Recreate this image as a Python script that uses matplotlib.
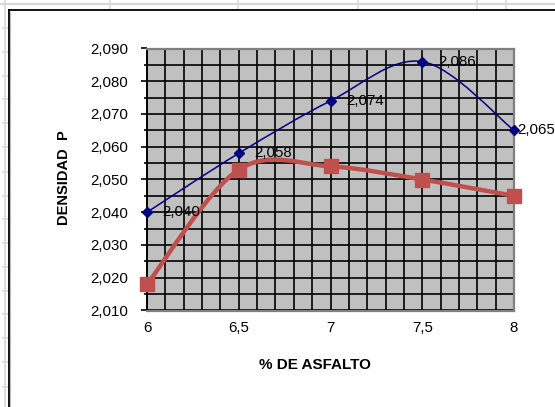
import matplotlib
matplotlib.use("Agg")
import matplotlib.pyplot as plt
from matplotlib.path import Path
from matplotlib.patches import PathPatch
from matplotlib.ticker import MultipleLocator, FuncFormatter

plt.rcParams['font.family'] = ['Liberation Sans', 'DejaVu Sans']

# Data
asfalto = [6.0, 6.5, 7.0, 7.5, 8.0]
densidad_a = [2.040, 2.058, 2.074, 2.086, 2.065]
densidad_b = [2.018, 2.053, 2.054, 2.050, 2.045]
x_ticks = [6.0, 6.5, 7.0, 7.5, 8.0]
y_range = (2.010, 2.090)

W, H = 555, 407
fig = plt.figure(figsize=(W / 100, H / 100), dpi=100)
fig.patch.set_facecolor('white')

# Worksheet cells behind the chart (pixel coordinates)
bg = fig.add_axes([0, 0, 1, 1], zorder=0)
bg.set_xlim(0, W)
bg.set_ylim(H, 0)
bg.axis('off')
cell = '#d9d9d9'
bg.plot([0, W], [3.5, 3.5], color=cell, lw=1.6)
for cx in [110, 238, 358, 477, 506]:
    bg.plot([cx, cx], [0, 9], color=cell, lw=1.2)
bg.plot([5, 5], [0, H], color=cell, lw=1.2)
for ry in [28, 52, 76, 99, 123, 147, 172, 196, 219, 243, 267, 291, 314, 338, 362, 387]:
    bg.plot([3, 8], [ry, ry], color=cell, lw=1.2)
# Chart area frame
bg.plot([8.5, 8.5], [10, H], color='black', lw=1.3)
bg.plot([8.5, W], [10, 10], color='black', lw=1.3)
bg.plot([10, 10], [11.5, H], color='#bbbbbb', lw=0.8)

# Plot area
left, right, top, bottom = 147, 514, 48.5, 310.5
ax = fig.add_axes([left / W, 1 - bottom / H, (right - left) / W, (bottom - top) / H], zorder=1)
ax.set_facecolor('#c0c0c0')
ax.set_xlim(asfalto[0], asfalto[-1])
ax.set_ylim(*y_range)

ax.xaxis.set_major_locator(MultipleLocator(0.5))
ax.xaxis.set_minor_locator(MultipleLocator(0.1))
ax.yaxis.set_major_locator(MultipleLocator(0.01))
ax.yaxis.set_minor_locator(MultipleLocator(0.005))
ax.set_xticks(x_ticks)
ax.xaxis.set_major_formatter(FuncFormatter(lambda v, p: f"{v:g}".replace('.', ',')))
ax.yaxis.set_major_formatter(FuncFormatter(lambda v, p: f"{v:.3f}".replace('.', ',')))

ax.grid(True, which='both', color='black', lw=1.2)
ax.set_axisbelow(True)
ax.tick_params(axis='x', which='both', length=0, pad=7.5, labelsize=10.8)
ax.tick_params(axis='y', which='major', length=4.5, width=1.2, pad=9, labelsize=10.8)
ax.tick_params(axis='y', which='minor', length=2.5, width=1.2)
for name, sp in ax.spines.items():
    sp.set_color('#808080')
    sp.set_linewidth(1.6)
ax.spines['left'].set_color('black')
ax.spines['left'].set_linewidth(1.4)


def smooth_path(xs, ys):
    """Cubic Bezier path through the points, with Catmull-Rom style control points."""
    n = len(xs)
    verts = [(xs[0], ys[0])]
    codes = [Path.MOVETO]
    for i in range(n - 1):
        i0 = max(i - 1, 0)
        i3 = min(i + 2, n - 1)
        c1 = (xs[i] + (xs[i + 1] - xs[i0]) / 6, ys[i] + (ys[i + 1] - ys[i0]) / 6)
        c2 = (xs[i + 1] - (xs[i3] - xs[i]) / 6, ys[i + 1] - (ys[i3] - ys[i]) / 6)
        verts += [c1, c2, (xs[i + 1], ys[i + 1])]
        codes += [Path.CURVE4] * 3
    return Path(verts, codes)


blue = '#000080'
red = '#c0504d'
ax.add_patch(PathPatch(smooth_path(asfalto, densidad_b), fill=False, edgecolor=red,
                       lw=3.2, capstyle='round', joinstyle='round', zorder=3))
ax.plot(asfalto, densidad_b, ls='none', marker='s', ms=10, color=red, zorder=4, clip_on=False)
ax.add_patch(PathPatch(smooth_path(asfalto, densidad_a), fill=False, edgecolor=blue,
                       lw=1.1, zorder=5))
ax.plot(asfalto, densidad_a, ls='none', marker='D', ms=5.5, color=blue, zorder=6, clip_on=False)

label_dx = [11, 11, 11.5, 11.5, 2]
for xv, yv, dx in zip(asfalto, densidad_a, label_dx):
    ax.annotate(f"{yv:.3f}".replace('.', ','), (xv, yv), xytext=(dx, 0),
                textcoords='offset points', ha='left', va='center', fontsize=10.8,
                color='black', zorder=7, annotation_clip=False)

fig.text(315 / W, 1 - 365 / H, '% DE ASFALTO', ha='center', va='center',
         fontsize=11, fontweight='bold')
fig.text(64 / W, 1 - 178 / H, 'DENSIDAD  P', ha='center', va='center',
         rotation=90, fontsize=10.5, fontweight='bold')

fig.savefig('out.png', dpi=100)
